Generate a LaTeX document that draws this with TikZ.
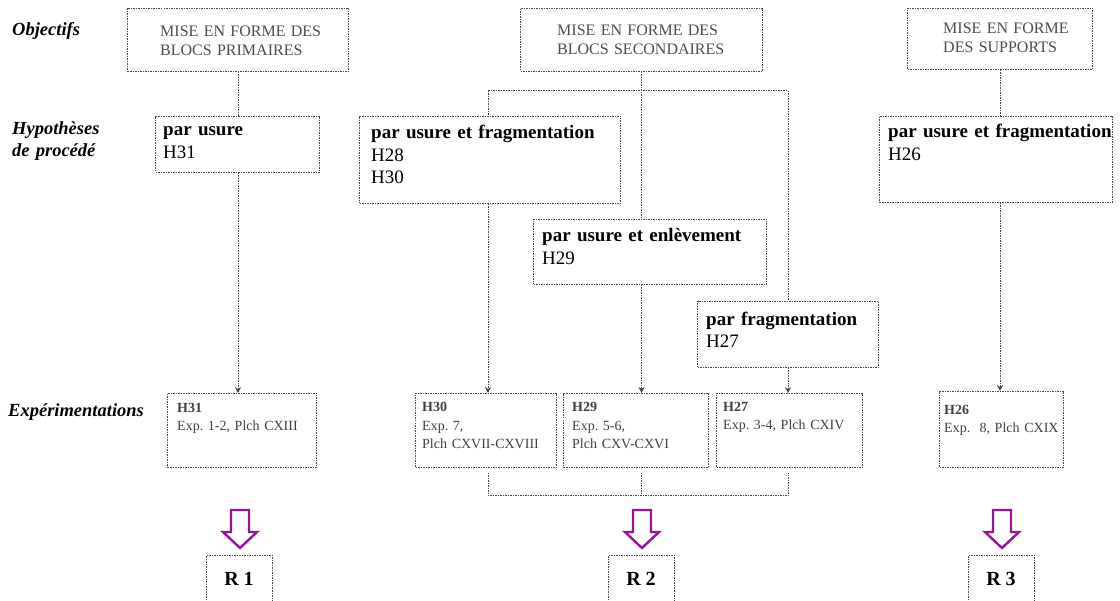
\documentclass[tikz,border=0pt]{standalone}
\usepackage{fontspec}
\setmainfont{Liberation Serif}
\usetikzlibrary{arrows.meta}
\frenchspacing
\definecolor{boxline}{gray}{0.28}
\definecolor{arrowpurple}{RGB}{150,20,150}
\tikzset{
  box/.style={draw=boxline, dash pattern=on 1.5pt off 1pt, line width=1pt, inner sep=0pt, anchor=north west},
  link/.style={draw=boxline, dash pattern=on 1.5pt off 1pt, line width=1pt},
  arr/.style={link, -{Stealth[length=6pt,width=6pt]}},
  objtxt/.style={anchor=base west, inner sep=0pt, text width=200pt, align=left, font=\fontsize{16}{19}\selectfont, text=black!70},
  hyptxt/.style={anchor=base west, inner sep=0pt, text width=260pt, align=left, font=\fontsize{19}{23}\selectfont},
  exptxt/.style={anchor=base west, inner sep=0pt, text width=160pt, align=left, font=\fontsize{14}{17.5}\selectfont, text=black!75},
  lbl/.style={anchor=base west, inner sep=0pt, text width=140pt, align=left, font=\fontsize{18.5}{22}\selectfont\bfseries\itshape},
  rbox/.style={draw=boxline, dash pattern=on 1.5pt off 1pt, line width=1pt, minimum width=66pt, minimum height=60pt, text height=13pt, text depth=13pt, inner sep=0pt, anchor=north, font=\fontsize{20}{24}\selectfont\bfseries},
  bigarrow/.style={draw=arrowpurple, line width=2.4pt, line join=miter, fill=white}
}
\begin{document}
\begin{tikzpicture}[x=1pt,y=-1pt]
\useasboundingbox (0,0) rectangle (1120,601);
\clip (0,0) rectangle (1120,601);

% row labels
\node[lbl] (lObj) at (12,36) {Objectifs};
\node[lbl] (lHyp) at (12,135) {Hypothèses\\de procédé};
\node[lbl] (lExp) at (8,417) {Expérimentations};

% objective boxes
\node[box, minimum width=221pt, minimum height=63pt] (oA) at (127,8) {};
\node[objtxt] (toA) at (160,37) {MISE EN FORME DES\\BLOCS PRIMAIRES};
\node[box, minimum width=242pt, minimum height=63pt] (oB) at (520,8) {};
\node[objtxt] (toB) at (557,36) {MISE EN FORME DES\\BLOCS SECONDAIRES};
\node[box, minimum width=185pt, minimum height=61pt] (oC) at (907,8) {};
\node[objtxt] (toC) at (943,34) {MISE EN FORME\\DES SUPPORTS};

% hypothesis boxes
\node[box, minimum width=164pt, minimum height=56pt] (hA) at (155,116) {};
\node[hyptxt] (thA) at (163,136) {\textbf{par usure}\\H31};
\node[box, minimum width=261pt, minimum height=87pt] (hC) at (359,116) {};
\node[hyptxt, font=\fontsize{19}{22.5}\selectfont] (thC) at (371,139) {\textbf{par usure et fragmentation}\\H28\\H30};
\node[box, minimum width=233pt, minimum height=65pt] (hD) at (533,219) {};
\node[hyptxt] (thD) at (542,242) {\textbf{par usure et enlèvement}\\H29};
\node[box, minimum width=181pt, minimum height=66pt] (hE) at (697,301) {};
\node[hyptxt, font=\fontsize{19}{22}\selectfont] (thE) at (706,326) {\textbf{par fragmentation}\\H27};
\node[box, minimum width=233pt, minimum height=86pt] (hF) at (879,116) {};
\node[hyptxt] (thF) at (888,138) {\textbf{par usure et fragmentation}\\H26};

% experiment boxes
\node[box, minimum width=149pt, minimum height=74pt] (eA) at (167,393) {};
\node[exptxt] (teA) at (177,413) {\textbf{H31}\\Exp. 1-2, Plch CXIII};
\node[box, minimum width=141pt, minimum height=74pt] (eC) at (415,393) {};
\node[exptxt, font=\fontsize{14}{18.5}\selectfont] (teC) at (422,412) {\textbf{H30}\\Exp. 7,\\Plch CXVII-CXVIII};
\node[box, minimum width=145pt, minimum height=74pt] (eD) at (563,393) {};
\node[exptxt, font=\fontsize{14}{18.5}\selectfont] (teD) at (572,412) {\textbf{H29}\\Exp. 5-6,\\Plch CXV-CXVI};
\node[box, minimum width=146pt, minimum height=74pt] (eE) at (716,393) {};
\node[exptxt] (teE) at (723,412) {\textbf{H27}\\Exp. 3-4, Plch CXIV};
\node[box, minimum width=124pt, minimum height=76pt] (eF) at (939,391) {};
\node[exptxt] (teF) at (944,415) {\textbf{H26}\\Exp.\ \ 8, Plch CXIX};

% connectors
\coordinate (busL) at (488,91);
\coordinate (busR) at (788,91);
\draw[link] (oA.south) -- (oA.south |- hA.north);
\draw[arr] (oA.south |- hA.south) -- (oA.south |- eA.north);
\draw[link] (oB.south) -- (oB.south |- hD.north);
\draw[link] (busL) -- (busR);
\draw[link] (busL) -- (busL |- hC.north);
\draw[link] (busR) -- (busR |- hE.north);
\draw[arr] (busL |- hC.south) -- (busL |- eC.north);
\draw[arr] (oB.south |- hD.south) -- (oB.south |- eD.north);
\draw[arr] (busR |- hE.south) -- (busR |- eE.north);
\draw[link] (oC.south) -- (oC.south |- hF.north);
\draw[arr] (oC.south |- hF.south) -- (oC.south |- eF.north);

% bracket joining the secondary experiments
\coordinate (bL) at (488,473);
\coordinate (bM) at (641,473);
\coordinate (bR) at (788,473);
\coordinate (brL) at (488,496);
\coordinate (brR) at (788,496);
\draw[link] (bL) -- (brL) -- (brR) -- (bR);
\draw[link] (bM) -- (bM |- brL);

% hollow purple arrows
\coordinate (a1) at (240,510);
\coordinate (a2) at (642,510);
\coordinate (a3) at (1002,510);
\foreach \a in {a1,a2,a3}{
  \draw[bigarrow, shift={(\a)}] (-9,0) -- (9,0) -- (9,22) -- (17,22) -- (0,38) -- (-17,22) -- (-9,22) -- cycle;
}

% result boxes
\node[rbox] (r1) at (239,555) {R 1};
\node[rbox] (r2) at (641,555) {R 2};
\node[rbox] (r3) at (1001,555) {R 3};
\end{tikzpicture}
\end{document}
